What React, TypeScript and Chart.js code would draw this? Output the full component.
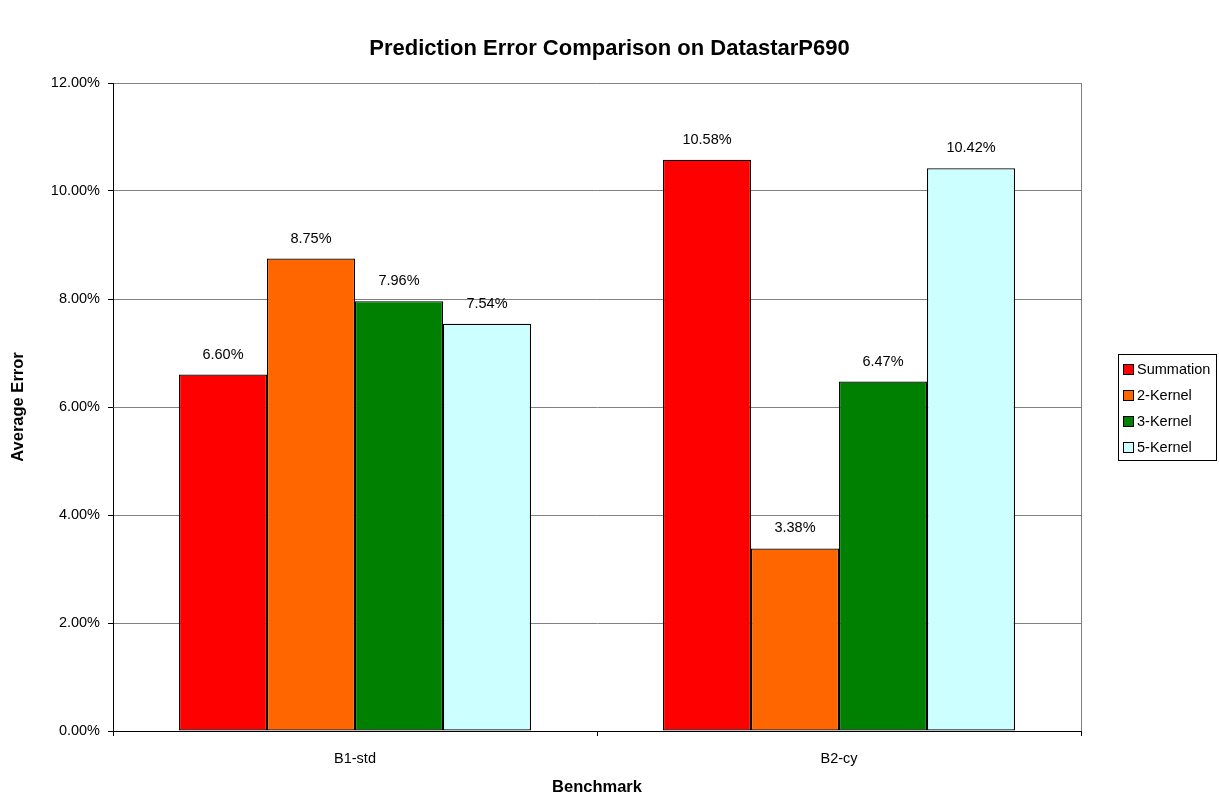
import React, { useEffect, useRef } from 'react';
import { Chart, registerables } from 'chart.js';

Chart.register(...registerables);

const categories = ['B1-std', 'B2-cy'];
const seriesNames = ['Summation', '2-Kernel', '3-Kernel', '5-Kernel'];
const summation = [6.6, 10.58];
const kernel2 = [8.75, 3.38];
const kernel3 = [7.96, 6.47];
const kernel5 = [7.54, 10.42];
const seriesColors = ['#FF0000', '#FF6600', '#008000', '#CCFFFF'];
const yMin = 0;
const yMax = 12;
const yStep = 2;

const FONT = "'Liberation Sans', Arial, sans-serif";
const TEXT_SIZE = 14.5;

const dataLabelPlugin = {
  id: 'dataLabels',
  afterDatasetsDraw(chart: any) {
    const ctx = chart.ctx;
    ctx.save();
    ctx.font = `${TEXT_SIZE}px ${FONT}`;
    ctx.fillStyle = '#000';
    ctx.textAlign = 'center';
    ctx.textBaseline = 'alphabetic';
    chart.data.datasets.forEach((ds: any, i: number) => {
      const meta = chart.getDatasetMeta(i);
      meta.data.forEach((el: any, j: number) => {
        const v = ds.data[j] as number;
        ctx.fillText(v.toFixed(2) + '%', el.x, el.y - 16);
      });
    });
    ctx.restore();
  },
};

const frameAndLegendPlugin = {
  id: 'frameAndLegend',
  afterDraw(chart: any) {
    const ctx = chart.ctx;
    const area = chart.chartArea;
    ctx.save();
    ctx.strokeStyle = '#808080';
    ctx.lineWidth = 1;
    ctx.beginPath();
    ctx.moveTo(Math.round(area.right) + 0.5, area.top);
    ctx.lineTo(Math.round(area.right) + 0.5, area.bottom);
    ctx.stroke();

    const boxLeft = 1118.5;
    const boxTop = 354.5;
    const boxW = 98;
    const boxH = 106;
    ctx.fillStyle = '#fff';
    ctx.fillRect(boxLeft, boxTop, boxW, boxH);
    ctx.strokeStyle = '#000';
    ctx.strokeRect(boxLeft, boxTop, boxW, boxH);
    ctx.font = `${TEXT_SIZE}px ${FONT}`;
    ctx.textBaseline = 'middle';
    ctx.textAlign = 'left';
    chart.data.datasets.forEach((ds: any, i: number) => {
      const cy = 369 + i * 26;
      const sy = Math.round(cy - 5) + 0.5;
      ctx.fillStyle = ds.backgroundColor;
      ctx.fillRect(1123.5, sy, 10, 10);
      ctx.strokeStyle = '#000';
      ctx.strokeRect(1123.5, sy, 10, 10);
      ctx.fillStyle = '#000';
      ctx.fillText(ds.label, 1137, cy + 1);
    });
    ctx.restore();
  },
};

export default function App() {
  const ref = useRef<HTMLCanvasElement | null>(null);

  useEffect(() => {
    document.body.style.margin = '0';
    const canvas = ref.current;
    if (!canvas) return;
    const values = [summation, kernel2, kernel3, kernel5];
    const chart = new Chart(canvas, {
      type: 'bar',
      data: {
        labels: categories,
        datasets: seriesNames.map((name, i) => ({
          label: name,
          data: values[i],
          backgroundColor: seriesColors[i],
          borderColor: '#000',
          borderWidth: 1.2,
          borderSkipped: false,
          categoryPercentage: 0.7273,
          barPercentage: 1,
          yAxisID: 'y',
        })),
      },
      options: {
        animation: false,
        responsive: true,
        maintainAspectRatio: false,
        layout: { padding: { left: 0, right: 0, top: 0, bottom: 0 } },
        plugins: {
          legend: { display: false },
          tooltip: { enabled: false },
          title: {
            display: true,
            text: 'Prediction Error Comparison on DatastarP690',
            color: '#000',
            font: { family: FONT, size: 22, weight: 'bold', lineHeight: 1.2 },
            padding: { top: 36, bottom: 20.6 },
          },
        },
        scales: {
          x: {
            afterFit(scale: any) {
              scale.height = 66;
            },
            grid: {
              display: true,
              drawOnChartArea: false,
              drawTicks: true,
              tickLength: 5,
              color: '#000',
              tickColor: '#000',
              offset: true,
            },
            border: { display: true, color: '#000', width: 1 },
            ticks: {
              color: '#000',
              font: { family: FONT, size: TEXT_SIZE },
              padding: 14,
            },
            title: {
              display: true,
              text: 'Benchmark',
              color: '#000',
              font: { family: FONT, size: 16.5, weight: 'bold', lineHeight: 1 },
              padding: { top: 0, bottom: 1 },
            },
          },
          y: {
            min: yMin,
            max: yMax,
            afterFit(scale: any) {
              scale.width = 113;
            },
            grid: {
              color: '#808080',
              tickColor: '#000',
              tickLength: 5,
              drawTicks: true,
            },
            border: { display: true, color: '#000', width: 1 },
            ticks: {
              stepSize: yStep,
              color: '#000',
              font: { family: FONT, size: TEXT_SIZE },
              padding: 8,
              callback: (v: any) => Number(v).toFixed(2) + '%',
            },
            title: {
              display: true,
              text: 'Average Error',
              color: '#000',
              font: { family: FONT, size: 16.5, weight: 'bold', lineHeight: 1 },
              padding: { top: 10, bottom: 0 },
            },
          },
          yRight: {
            position: 'right',
            afterFit(scale: any) {
              scale.width = 138;
            },
            grid: { display: true, drawOnChartArea: false, drawTicks: false },
            border: { display: false },
            ticks: { display: false },
          },
        },
      },
      plugins: [dataLabelPlugin, frameAndLegendPlugin],
    });
    return () => chart.destroy();
  }, []);

  return (
    <div style={{ width: 1219, height: 797, position: 'relative' }}>
      <canvas ref={ref} style={{ display: 'block' }} />
    </div>
  );
}
